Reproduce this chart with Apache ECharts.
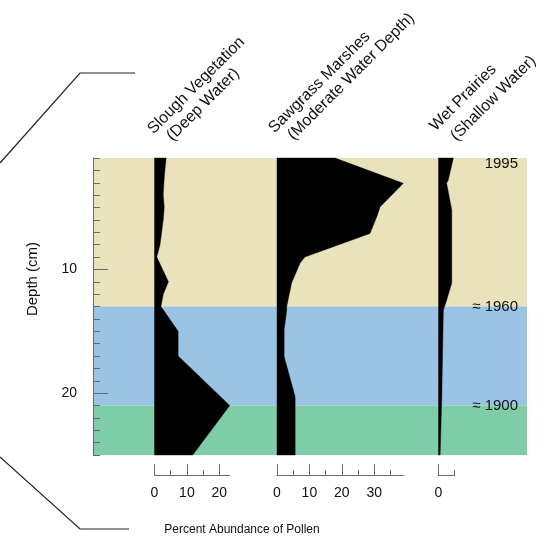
<!DOCTYPE html>
<html>
<head>
<meta charset="utf-8">
<script src="https://cdn.jsdelivr.net/npm/echarts@6/dist/echarts.min.js"></script>
<style>
  html, body { margin: 0; padding: 0; background: #ffffff; }
  #chart { width: 550px; height: 540px; }
</style>
</head>
<body>
<div id="chart"></div>
<script>
// Core depth axis (cm)
const depthMin = 1;
const depthMax = 25;
const depthLabelTicks = [10, 20];

// Time zones along the core: edges (cm) and fills
const zoneEdges = [1, 13, 21, 25];
const zoneColors = ['#e9e2ba', '#9bc4e4', '#7fcca9'];
const dateDepths = [1, 13, 21];
const dateLabels = ['1995', '≈ 1960', '≈ 1900'];

// Slough vegetation (deep water): % abundance by depth
const sloughDepth = [1, 2, 3, 4, 5, 6, 7, 8, 9, 10, 11, 12, 13, 15, 17, 21, 25];
const sloughPct   = [3.6, 3.2, 2.9, 2.7, 3.0, 2.7, 2.2, 1.7, 0.7, 2.5, 4.3, 2.7, 2.0, 7.3, 7.3, 23.2, 11.8];
const sloughTicks = [0, 10, 20];
const sloughMinor = [5, 15];

// Sawgrass marshes (moderate water depth)
const sawDepth = [1, 3.05, 4.95, 5.75, 7.1, 9.0, 9.5, 11.1, 13.0, 13.3, 14.9, 17.05, 20.3, 25];
const sawPct   = [17.9, 39.0, 31.8, 30.8, 28.7, 8.6, 7.1, 4.5, 3.0, 3.0, 2.2, 2.2, 5.6, 5.6];
const sawTicks = [0, 10, 20, 30];
const sawMinor = [5, 15, 25, 35];

// Wet prairies (shallow water)
const wetDepth = [1, 2.8, 3.05, 5.2, 8.2, 11.1, 12.5, 13.3, 20.5, 25];
const wetPct   = [4.6, 3.0, 2.5, 4.1, 4.1, 4.1, 2.5, 1.5, 1.0, 0.5];
const wetTicks = [0];
const wetMinor = [5];
const wetAxisMax = 5;

const FONT = '"Liberation Sans", Arial, Helvetica, sans-serif';
const PX_PER_PCT = 3.24;
const PLOT_TOP = 158;
const PLOT_H = 297;
const AXIS_GRAY = '#6b6b6b';
const HEAD_FONT = '16px ' + FONT;

const sloughMax = Math.max(...sloughPct);
const sawMax = Math.max(...sawPct);

function panelAxes(gridIndex, max, major, minor) {
  return [
    {
      gridIndex, type: 'value', min: 0, max, position: 'bottom', offset: 20,
      axisLine: { show: true, lineStyle: { color: AXIS_GRAY, width: 1 } },
      axisTick: { show: true, inside: true, length: 11, customValues: major,
                  lineStyle: { color: AXIS_GRAY, width: 1 } },
      axisLabel: { show: true, customValues: major, margin: 11, fontSize: 14,
                   color: '#111', fontFamily: FONT },
      splitLine: { show: false }
    },
    {
      gridIndex, type: 'value', min: 0, max, position: 'bottom', offset: 20,
      axisLine: { show: false },
      axisTick: { show: true, inside: true, length: 5, customValues: minor,
                  lineStyle: { color: AXIS_GRAY, width: 1 } },
      axisLabel: { show: false },
      splitLine: { show: false }
    }
  ];
}

function hiddenDepthAxis(gridIndex) {
  return { gridIndex, type: 'value', min: depthMin, max: depthMax, inverse: true, show: false };
}

// Filled profile: polygon closed back to the 0% baseline
function profileSeries(name, xAxisIndex, yAxisIndex, depths, pct) {
  return {
    name, type: 'custom', coordinateSystem: 'cartesian2d',
    xAxisIndex, yAxisIndex, z: 3, silent: true,
    data: depths.map((d, i) => [pct[i], d]),
    renderItem: function (params, api) {
      if (params.dataIndex !== 0) return null;
      const pts = [api.coord([0, depths[0]])];
      for (let i = 0; i < depths.length; i++) pts.push(api.coord([pct[i], depths[i]]));
      pts.push(api.coord([0, depths[depths.length - 1]]));
      return { type: 'polygon', shape: { points: pts },
               style: { fill: '#000000', stroke: '#000000', lineWidth: 0.4 } };
    }
  };
}

function heading(text, x, y) {
  return { type: 'text', x, y, rotation: Math.PI / 4, silent: true,
           style: { text, align: 'left', verticalAlign: 'bottom', font: HEAD_FONT, fill: '#111' } };
}

const chart = echarts.init(document.getElementById('chart'), null, { renderer: 'canvas' });

const option = {
  animation: false,
  backgroundColor: '#ffffff',
  textStyle: { fontFamily: FONT },
  grid: [
    { left: 93, top: PLOT_TOP, width: 434, height: PLOT_H },
    { left: 154.5, top: PLOT_TOP, width: sloughMax * PX_PER_PCT, height: PLOT_H },
    { left: 277, top: PLOT_TOP, width: sawMax * PX_PER_PCT, height: PLOT_H },
    { left: 438.5, top: PLOT_TOP, width: wetAxisMax * PX_PER_PCT, height: PLOT_H }
  ],
  xAxis: [
    { gridIndex: 0, type: 'value', min: 0, max: 1, show: false },
    ...panelAxes(1, sloughMax, sloughTicks, sloughMinor),
    ...panelAxes(2, sawMax, sawTicks, sawMinor),
    ...panelAxes(3, wetAxisMax, wetTicks, wetMinor)
  ],
  yAxis: [
    {
      gridIndex: 0, type: 'value', min: depthMin, max: depthMax, interval: 1,
      inverse: true, position: 'left',
      axisLine: { show: true, lineStyle: { color: AXIS_GRAY, width: 1 } },
      axisTick: { show: true, inside: true, length: 7, lineStyle: { color: AXIS_GRAY } },
      axisLabel: { show: false },
      splitLine: { show: false }
    },
    {
      gridIndex: 0, type: 'value', min: depthMin, max: depthMax,
      inverse: true, position: 'left',
      axisLine: { show: false },
      axisTick: { show: true, inside: true, length: 15, customValues: depthLabelTicks,
                  lineStyle: { color: AXIS_GRAY } },
      axisLabel: { show: true, customValues: depthLabelTicks, margin: 16,
                   fontSize: 14, color: '#111', fontFamily: FONT },
      splitLine: { show: false }
    },
    hiddenDepthAxis(1),
    hiddenDepthAxis(2),
    hiddenDepthAxis(3)
  ],
  series: [
    {
      name: 'zones', type: 'custom', coordinateSystem: 'cartesian2d',
      xAxisIndex: 0, yAxisIndex: 0, z: 0, silent: true,
      data: zoneColors.map((c, i) => [zoneEdges[i], zoneEdges[i + 1]]),
      renderItem: function (params, api) {
        const cs = params.coordSys;
        const y0 = api.coord([0, api.value(0)])[1];
        const y1 = api.coord([0, api.value(1)])[1];
        return { type: 'rect', shape: { x: cs.x, y: y0, width: cs.width, height: y1 - y0 },
                 style: { fill: zoneColors[params.dataIndex] } };
      }
    },
    profileSeries('Slough Vegetation', 1, 2, sloughDepth, sloughPct),
    profileSeries('Sawgrass Marshes', 3, 3, sawDepth, sawPct),
    profileSeries('Wet Prairies', 5, 4, wetDepth, wetPct),
    {
      name: 'dates', type: 'custom', coordinateSystem: 'cartesian2d',
      xAxisIndex: 0, yAxisIndex: 0, z: 4, silent: true,
      data: dateDepths.map(d => [0, d]),
      renderItem: function (params, api) {
        const cs = params.coordSys;
        const y = Math.max(api.coord([0, api.value(1)])[1], cs.y + 6);
        return { type: 'text', x: cs.x + cs.width - 9, y,
                 style: { text: dateLabels[params.dataIndex], align: 'right', verticalAlign: 'middle',
                          font: '15px ' + FONT, fill: '#111' } };
      }
    }
  ],
  graphic: [
    { type: 'polyline', shape: { points: [[135, 73], [80, 73], [0, 163]] },
      style: { stroke: '#222', lineWidth: 1.2, fill: null }, silent: true },
    { type: 'polyline', shape: { points: [[0, 457], [80, 529], [129, 529]] },
      style: { stroke: '#222', lineWidth: 1.2, fill: null }, silent: true },
    { type: 'text', x: 33, y: 279, rotation: Math.PI / 2, silent: true,
      style: { text: 'Depth (cm)', align: 'center', verticalAlign: 'middle',
               font: '15px ' + FONT, fill: '#111' } },
    { type: 'text', x: 242, y: 530, silent: true,
      style: { text: 'Percent Abundance of Pollen', align: 'center', verticalAlign: 'middle',
               font: '12px ' + FONT, fill: '#111' } },
    // column headings
    heading('Slough Vegetation', 156, 137),
    heading('(Deep Water)', 175, 144),
    heading('Sawgrass Marshes', 277, 136),
    heading('(Moderate Water Depth)', 296, 143),
    heading('Wet Prairies', 438, 134),
    heading('(Shallow Water)', 459, 144)
  ]
};

chart.setOption(option);
</script>
</body>
</html>
